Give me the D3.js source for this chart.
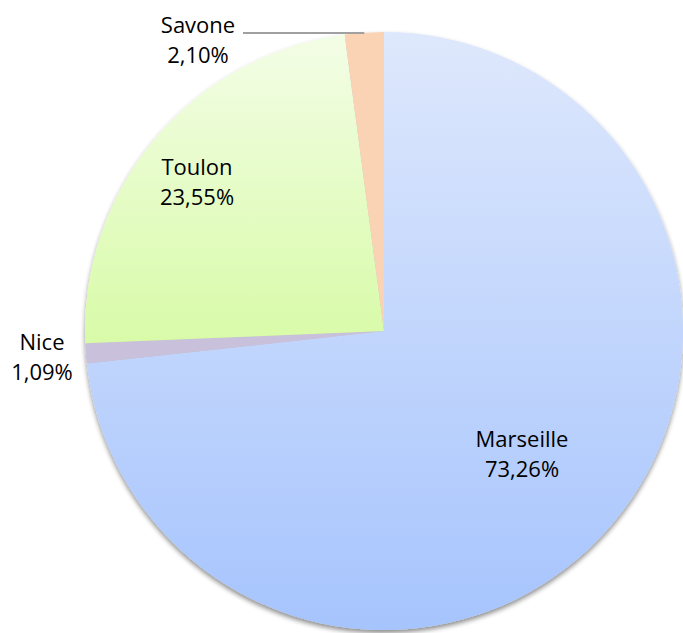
<!DOCTYPE html>
<html>
<head>
<meta charset="utf-8">
<script src="https://cdn.jsdelivr.net/npm/d3@7"></script>
<style>
  body { margin: 0; background: #fff; }
  text { font-family: "Open Sans", Lato, sans-serif; font-size: 22px; fill: #000; }
</style>
</head>
<body>
<script>
	// data
	var cities = ["Marseille", "Nice", "Toulon", "Savone"];
	var shares = [73.26, 1.09, 23.55, 2.10];
	var topColors = ["#dee8fc", "#c9c0dc", "#f3fde6", "#fad3b4"];
	var bottomColors = ["#a6c4fd", "#c9c0dc", "#d8fba8", "#fad3b4"];
	// label anchor points (center x, first baseline y)
	var labelPos = [[522, 447], [42, 350], [197, 175], [198, 33]];

	var svg_w = 683, svg_h = 633;
	var cx = 384, cy = 331, radius = 299;

	var svg = d3.select("body").append("svg")
		.attr("width", svg_w)
		.attr("height", svg_h);

	var defs = svg.append("defs");
	var filter = defs.append("filter").attr("id", "shadow")
		.attr("x", "-10%").attr("y", "-10%").attr("width", "120%").attr("height", "120%");
	filter.append("feGaussianBlur").attr("in", "SourceAlpha").attr("stdDeviation", 2.5);
	filter.append("feOffset").attr("dx", 0).attr("dy", 3).attr("result", "b");
	filter.append("feComponentTransfer").append("feFuncA").attr("type", "linear").attr("slope", 0.45);
	var merge = filter.append("feMerge");
	merge.append("feMergeNode");
	merge.append("feMergeNode").attr("in", "SourceGraphic");

	cities.forEach(function(c, i) {
		var g = defs.append("linearGradient").attr("id", "grad" + i)
			.attr("x1", 0).attr("y1", 0).attr("x2", 0).attr("y2", 1);
		g.append("stop").attr("offset", "0%").attr("stop-color", topColors[i]);
		g.append("stop").attr("offset", "100%").attr("stop-color", bottomColors[i]);
	});

	var data = cities.map(function(c, i) { return {name: c, value: shares[i], idx: i}; });

	var pie = d3.pie().sort(null).value(function(d) { return d.value; });
	var arc = d3.arc().innerRadius(0).outerRadius(radius);

	var g = svg.append("g")
		.attr("transform", "translate(" + cx + "," + cy + ")")
		.attr("filter", "url(#shadow)");

	g.selectAll("path")
		.data(pie(data))
		.enter()
		.append("path")
		.attr("d", arc)
		.attr("fill", function(d) { return "url(#grad" + d.data.idx + ")"; });

	// leader line for Savone
	var sav = pie(data)[3];
	var mid = (sav.startAngle + sav.endAngle) / 2;
	var lx = cx + Math.sin(mid) * radius;
	svg.append("line")
		.attr("x1", 243).attr("y1", 33)
		.attr("x2", lx).attr("y2", 33)
		.attr("stroke", "#a0a0a0")
		.attr("stroke-width", 2);

	var fmt = function(v) { return v.toFixed(2).replace(".", ",") + "%"; };

	var labels = svg.selectAll("text.lbl")
		.data(data)
		.enter()
		.append("text")
		.attr("class", "lbl")
		.attr("text-anchor", "middle")
		.attr("transform", function(d) { return "translate(" + labelPos[d.idx][0] + "," + labelPos[d.idx][1] + ")"; });
	labels.append("tspan").attr("x", 0).attr("y", 0).text(function(d) { return d.name; });
	labels.append("tspan").attr("x", 0).attr("y", 30).text(function(d) { return fmt(d.value); });
</script>
</body>
</html>
